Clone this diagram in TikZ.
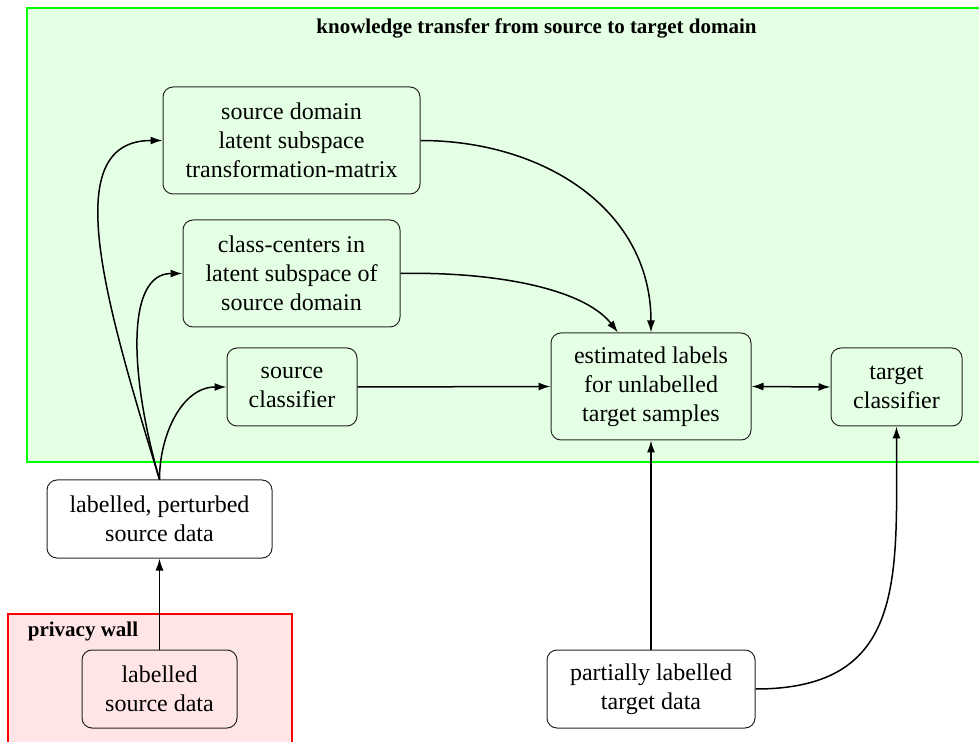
\documentclass[tikz,border=0pt]{standalone}
\usepackage{fontspec}
\setmainfont{Liberation Serif}
\usetikzlibrary{arrows.meta,calc}
\begin{document}
\begin{tikzpicture}[x=0.5pt,y=-0.5pt,
  box/.style={draw=black!85, line width=0.5pt, rounded corners=5pt, align=center, inner sep=0pt,
    font=\fontsize{12}{14.5}\selectfont},
  conn/.style={line width=0.75pt, -{Latex[length=6pt,width=4pt]}},
  biconn/.style={line width=0.75pt, {Latex[length=6pt,width=4pt]}-{Latex[length=6pt,width=4pt]}},
  area/.style={line width=1pt},
  arealabel/.style={font=\fontsize{10.5}{12.5}\selectfont\bfseries, inner sep=0pt}
]
\clip (0,0) rectangle (979,742);
\draw[area, draw=green, fill=green!10] (27,8) rectangle (1000,462);
\draw[area, draw=red, fill=red!10] (8,614) rectangle (292,760);

\node[arealabel] (title) at (536.5,28) {knowledge transfer from source to target domain};
\node[arealabel] (wall) at (83,631) {privacy wall};

\node[box, minimum width=128.5pt, minimum height=53.5pt] (A) at (291.5,140.5) {source domain\\latent subspace\\transformation-matrix};
\node[box, minimum width=108.5pt, minimum height=53.5pt] (B) at (291.5,273.5) {class-centers in\\latent subspace of\\source domain};
\node[box, minimum width=65pt, minimum height=39pt] (C) at (292,387) {source\\classifier};
\node[box, minimum width=100pt, minimum height=53.5pt] (D) at (651,386.5) {estimated labels\\for unlabelled\\target samples};
\node[box, minimum width=65.5pt, minimum height=39pt] (E) at (896.5,387) {target\\classifier};
\node[box, minimum width=112.5pt, minimum height=39pt] (F) at (159.5,519) {labelled, perturbed\\source data};
\node[box, minimum width=77.5pt, minimum height=39pt] (G) at (159.5,689) {labelled\\source data};
\node[box, minimum width=104pt, minimum height=39pt] (H) at (651,689) {partially labelled\\target data};

\coordinate (Dnw) at ($(D.north)+(-33,0)$);

\draw[conn] (F.north) .. controls +(-55,-180) and +(-105,0) .. (A.west);
\draw[conn] (F.north) .. controls +(-29,-100) and +(-58,0) .. (B.west);
\draw[conn] (F.north) to[out=90,in=180] (C.west);
\draw[conn] (G.north) -- (F.south);
\draw[conn] (A.east) to[out=0,in=90,looseness=1.05] (D.north);
\draw[conn] (B.east) .. controls +(90,-2) and +(-35,-45) .. (Dnw);
\draw[conn] (C.east) -- (D.west);
\draw[biconn] (D.east) -- (E.west);
\draw[conn] (H.north) -- (D.south);
\draw[conn] (H.east) to[out=0,in=-90,looseness=1.3] (E.south);
\end{tikzpicture}
\end{document}
